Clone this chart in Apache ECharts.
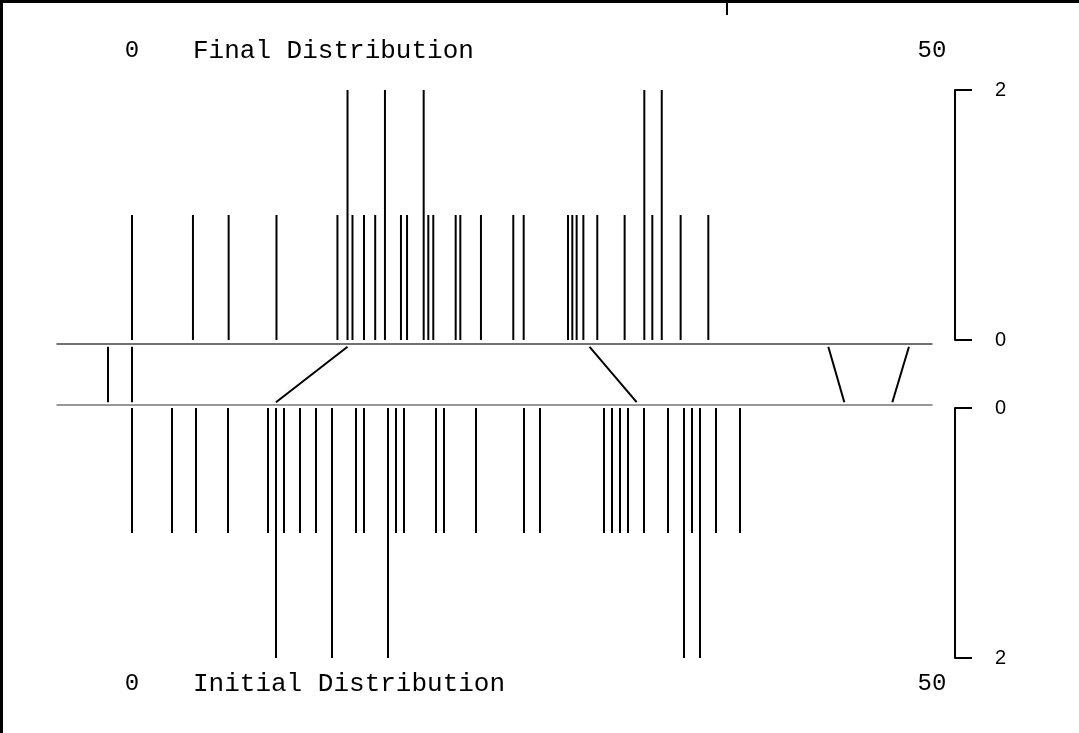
<!DOCTYPE html>
<html>
<head>
<meta charset="utf-8">
<script src="https://cdn.jsdelivr.net/npm/echarts@6/dist/echarts.min.js"></script>
<style>
  html, body { margin: 0; padding: 0; background: #fff; }
  #chart { width: 1079px; height: 733px; }
</style>
</head>
<body>
<div id="chart"></div>
<script>
// positions of the items (x) and how many sit at each spot
const finalPos = [0, 3.81, 6.04, 9.03, 12.84, 13.47, 13.78, 14.5, 15.2, 15.81, 16.81, 17.19,
  18.23, 18.52, 18.83, 20.23, 20.52, 21.81, 23.83, 24.48, 27.25, 27.52, 27.79, 28.21,
  29.08, 30.79, 32.02, 32.52, 33.11, 34.29, 36.02];
const finalCount = [1, 1, 1, 1, 1, 2, 1, 1, 1, 2, 1, 1,
  2, 1, 1, 1, 1, 1, 1, 1, 1, 1, 1, 1,
  1, 1, 2, 1, 2, 1, 1];

const initialPos = [0, 2.5, 4, 6, 8.5, 9, 9.5, 10.5, 11.5, 12.5, 14, 14.5, 16, 16.5, 17,
  19, 19.5, 21.5, 24.5, 25.5, 29.5, 30, 30.5, 31, 32, 33.5, 34.5, 35, 35.5, 36.5, 38];
const initialCount = [1, 1, 1, 1, 1, 2, 1, 1, 1, 2, 1, 1, 2, 1, 1,
  1, 1, 1, 1, 1, 1, 1, 1, 1, 1, 1, 2, 1, 2, 1, 1];

// moved items: where they started and where they ended
const moveFrom = [-1.5, 0, 9, 31.54, 44.52, 47.52];
const moveTo = [-1.5, 0, 13.47, 28.6, 43.52, 48.56];

const xTicks = [0, 50];
const yTicks = [0, 2];
const X_MIN = -4.6875;
const X_MAX = 50;

const monoFont = '"Liberation Mono", "DejaVu Sans Mono", monospace';
const sansFont = '"Liberation Sans", Arial, sans-serif';

function spike(params, api) {
  const p0 = api.coord([api.value(0), 0]);
  const p1 = api.coord([api.value(0), api.value(1)]);
  return {
    type: 'line',
    shape: { x1: p0[0], y1: p0[1], x2: p1[0], y2: p1[1] },
    style: { stroke: '#000', lineWidth: 2 }
  };
}

function link(params, api) {
  const p0 = api.coord([api.value(0), 0]);
  const p1 = api.coord([api.value(1), 1]);
  return {
    type: 'line',
    shape: { x1: p0[0], y1: p0[1], x2: p1[0], y2: p1[1] },
    style: { stroke: '#000', lineWidth: 2 }
  };
}

function countAxis(gridIndex, inverse) {
  return {
    type: 'value', gridIndex: gridIndex, position: 'right', offset: 23,
    min: 0, max: 2, inverse: inverse,
    axisLine: { show: true, onZero: false, lineStyle: { color: '#000', width: 2 } },
    axisTick: { show: true, customValues: yTicks, length: 17, lineStyle: { color: '#000', width: 2 } },
    splitLine: { show: false },
    axisLabel: { customValues: yTicks, margin: 40, fontFamily: sansFont, fontSize: 20, color: '#000' }
  };
}

function baseAxis(gridIndex, position, color) {
  return {
    type: 'value', gridIndex: gridIndex, position: position, min: X_MIN, max: X_MAX,
    axisLine: { show: true, onZero: false, lineStyle: { color: color, width: 1.5 } },
    axisTick: { show: false }, splitLine: { show: false }, axisLabel: { show: false }
  };
}

function labelAxis(gridIndex, position, margin) {
  return {
    type: 'value', gridIndex: gridIndex, position: position, min: X_MIN, max: X_MAX,
    axisLine: { show: false, onZero: false }, axisTick: { show: false }, splitLine: { show: false },
    axisLabel: { customValues: xTicks, margin: margin, fontFamily: monoFont, fontSize: 24, color: '#000' }
  };
}

const options = {
  animation: false,
  backgroundColor: '#fff',
  title: [
    { text: 'Final Distribution', left: 193, top: 38, padding: 0,
      textStyle: { fontFamily: monoFont, fontSize: 26, fontWeight: 'normal', color: '#000', lineHeight: 26 } },
    { text: 'Initial Distribution', left: 193, top: 671, padding: 0,
      textStyle: { fontFamily: monoFont, fontSize: 26, fontWeight: 'normal', color: '#000', lineHeight: 26 } }
  ],
  grid: [
    { left: 57, right: 147, top: 90, height: 250 },
    { left: 57, right: 147, top: 344, height: 61 },
    { left: 57, right: 147, top: 408, height: 250 }
  ],
  xAxis: [
    labelAxis(0, 'top', 27),
    baseAxis(1, 'top', '#444'),
    baseAxis(1, 'bottom', '#777'),
    labelAxis(2, 'bottom', 14)
  ],
  yAxis: [
    countAxis(0, false),
    {
      type: 'value', gridIndex: 1, min: -0.05, max: 1.05,
      axisLine: { show: false, onZero: false }, axisTick: { show: false },
      splitLine: { show: false }, axisLabel: { show: false }
    },
    countAxis(2, true)
  ],
  series: [
    {
      name: 'final', type: 'custom', xAxisIndex: 0, yAxisIndex: 0,
      renderItem: spike, encode: { x: 0, y: 1 },
      data: finalPos.map((x, i) => [x, finalCount[i]])
    },
    {
      name: 'moves', type: 'custom', xAxisIndex: 1, yAxisIndex: 1,
      renderItem: link, encode: { x: [0, 1] },
      data: moveFrom.map((x, i) => [x, moveTo[i]])
    },
    {
      name: 'initial', type: 'custom', xAxisIndex: 3, yAxisIndex: 2,
      renderItem: spike, encode: { x: 0, y: 1 },
      data: initialPos.map((x, i) => [x, initialCount[i]])
    }
  ],
  graphic: [
    { type: 'rect', shape: { x: 0, y: 0, width: 3, height: 733 }, style: { fill: '#000' } },
    { type: 'rect', shape: { x: 0, y: 0, width: 1079, height: 3 }, style: { fill: '#000' } },
    { type: 'rect', shape: { x: 726, y: 0, width: 2, height: 15 }, style: { fill: '#000' } }
  ]
};

const chart = echarts.init(document.getElementById('chart'));
chart.setOption(options);
</script>
</body>
</html>
